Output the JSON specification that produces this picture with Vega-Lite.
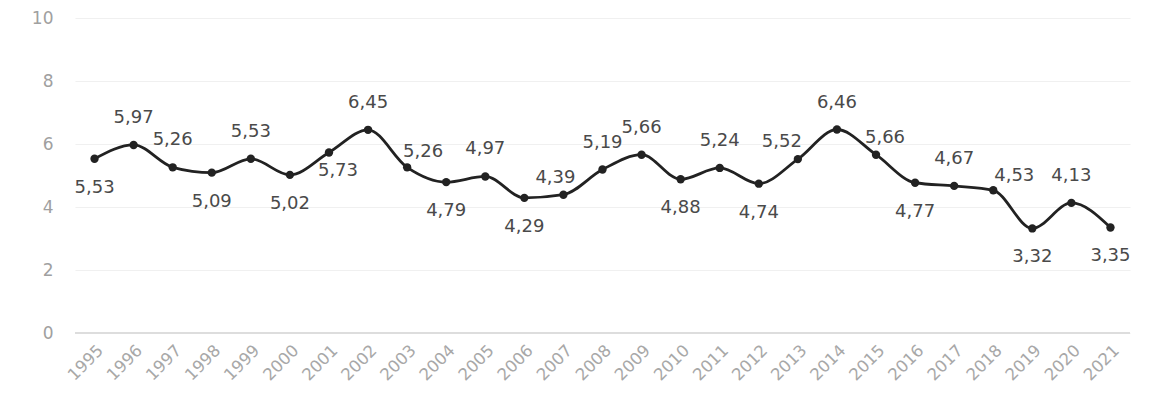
{
  "$schema": "https://vega.github.io/schema/vega-lite/v6.json",
  "width": 1055,
  "height": 315,
  "autosize": {"type": "none"},
  "padding": {"left": 75, "top": 18, "right": 34, "bottom": 70},
  "background": "white",
  "config": {
    "locale": {"number": {"decimal": ",", "thousands": ".", "grouping": [3], "currency": ["", " €"]}},
    "view": {"stroke": null},
    "font": "DejaVu Sans"
  },
  "data": {
    "values": [
      {"year": "1995", "value": 5.53},
      {"year": "1996", "value": 5.97},
      {"year": "1997", "value": 5.26},
      {"year": "1998", "value": 5.09},
      {"year": "1999", "value": 5.53},
      {"year": "2000", "value": 5.02},
      {"year": "2001", "value": 5.73},
      {"year": "2002", "value": 6.45},
      {"year": "2003", "value": 5.26},
      {"year": "2004", "value": 4.79},
      {"year": "2005", "value": 4.97},
      {"year": "2006", "value": 4.29},
      {"year": "2007", "value": 4.39},
      {"year": "2008", "value": 5.19},
      {"year": "2009", "value": 5.66},
      {"year": "2010", "value": 4.88},
      {"year": "2011", "value": 5.24},
      {"year": "2012", "value": 4.74},
      {"year": "2013", "value": 5.52},
      {"year": "2014", "value": 6.46},
      {"year": "2015", "value": 5.66},
      {"year": "2016", "value": 4.77},
      {"year": "2017", "value": 4.67},
      {"year": "2018", "value": 4.53},
      {"year": "2019", "value": 3.32},
      {"year": "2020", "value": 4.13},
      {"year": "2021", "value": 3.35}
    ]
  },
  "encoding": {
    "x": {
      "field": "year", "type": "ordinal",
      "scale": {"type": "point", "padding": 0.5},
      "axis": {
        "title": null, "labelAngle": -45, "labelColor": "#a8a8a8", "labelFontSize": 16.5,
        "domain": false, "ticks": false, "labelPadding": 9, "grid": false
      }
    },
    "y": {
      "field": "value", "type": "quantitative",
      "scale": {"domain": [0, 10], "nice": false},
      "axis": {
        "title": null, "values": [0, 2, 4, 6, 8, 10], "labelColor": "#a0a0a0", "labelFontSize": 17,
        "domain": false, "ticks": false, "labelPadding": 22, "gridColor": "#f0f0f0", "gridWidth": 1.2
      }
    }
  },
  "layer": [
    {
      "mark": {"type": "rule", "color": "#dddddd", "strokeWidth": 1.5},
      "encoding": {"y": {"datum": 0}, "x": null}
    },
    {
      "mark": {"type": "line", "interpolate": "monotone", "color": "#222222", "strokeWidth": 2.8}
    },
    {
      "mark": {"type": "point", "filled": true, "color": "#222222", "size": 70, "opacity": 1}
    },
    {
      "transform": [{"filter": {"field": "year", "oneOf": ["1996","1997","1999","2002","2005","2008","2009","2011","2014","2017","2020"]}}],
      "mark": {"type": "text", "dy": -27, "fontSize": 18, "color": "#4a4a4a", "baseline": "middle"},
      "encoding": {"text": {"field": "value", "type": "quantitative", "format": ".2f"}}
    },
    {
      "transform": [{"filter": {"field": "year", "oneOf": ["1995","1998","2000","2004","2006","2010","2012","2016","2019","2021"]}}],
      "mark": {"type": "text", "dy": 29, "fontSize": 18, "color": "#4a4a4a", "baseline": "middle"},
      "encoding": {"text": {"field": "value", "type": "quantitative", "format": ".2f"}}
    },
    {
      "transform": [{"filter": {"field": "year", "equal": "2001"}}],
      "mark": {"type": "text", "dx": 9, "dy": 18, "fontSize": 18, "color": "#4a4a4a", "baseline": "middle"},
      "encoding": {"text": {"field": "value", "type": "quantitative", "format": ".2f"}}
    },
    {
      "transform": [{"filter": {"field": "year", "equal": "2003"}}],
      "mark": {"type": "text", "dx": 16, "dy": -15, "fontSize": 18, "color": "#4a4a4a", "baseline": "middle"},
      "encoding": {"text": {"field": "value", "type": "quantitative", "format": ".2f"}}
    },
    {
      "transform": [{"filter": {"field": "year", "equal": "2007"}}],
      "mark": {"type": "text", "dx": -8, "dy": -17, "fontSize": 18, "color": "#4a4a4a", "baseline": "middle"},
      "encoding": {"text": {"field": "value", "type": "quantitative", "format": ".2f"}}
    },
    {
      "transform": [{"filter": {"field": "year", "equal": "2013"}}],
      "mark": {"type": "text", "dx": -16, "dy": -17, "fontSize": 18, "color": "#4a4a4a", "baseline": "middle"},
      "encoding": {"text": {"field": "value", "type": "quantitative", "format": ".2f"}}
    },
    {
      "transform": [{"filter": {"field": "year", "equal": "2015"}}],
      "mark": {"type": "text", "dx": 9, "dy": -17, "fontSize": 18, "color": "#4a4a4a", "baseline": "middle"},
      "encoding": {"text": {"field": "value", "type": "quantitative", "format": ".2f"}}
    },
    {
      "transform": [{"filter": {"field": "year", "equal": "2018"}}],
      "mark": {"type": "text", "dx": 21, "dy": -14, "fontSize": 18, "color": "#4a4a4a", "baseline": "middle"},
      "encoding": {"text": {"field": "value", "type": "quantitative", "format": ".2f"}}
    }
  ]
}
